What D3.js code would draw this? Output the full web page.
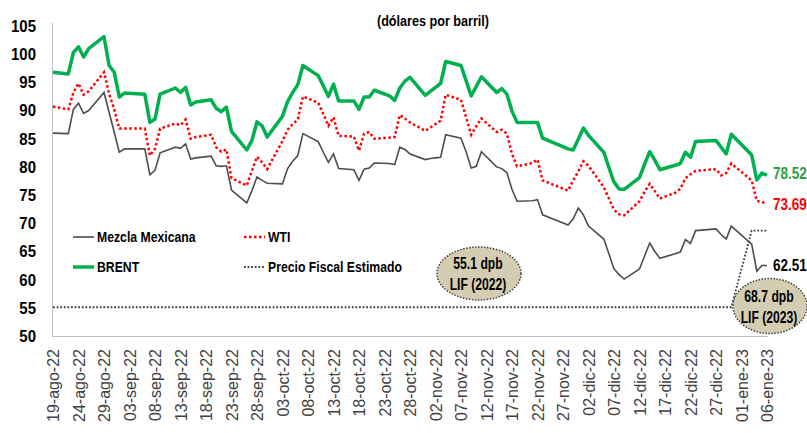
<!DOCTYPE html>
<html>
<head>
<meta charset="utf-8">
<script src="https://cdn.jsdelivr.net/npm/d3@7"></script>
<style>
  body { margin: 0; background: #fff; }
  text { font-family: "Liberation Sans", Arial, sans-serif; }
</style>
</head>
<body>
<div id="wrapper"></div>
<script>
// trading days shown in the chart
const dates = [
  "2022-08-19","2022-08-22","2022-08-23","2022-08-24","2022-08-25","2022-08-26","2022-08-29","2022-08-30","2022-08-31",
  "2022-09-01","2022-09-02","2022-09-06","2022-09-07","2022-09-08","2022-09-09","2022-09-12","2022-09-13","2022-09-14",
  "2022-09-15","2022-09-16","2022-09-19","2022-09-20","2022-09-21","2022-09-22","2022-09-23","2022-09-26","2022-09-27",
  "2022-09-28","2022-09-29","2022-09-30","2022-10-03","2022-10-04","2022-10-05","2022-10-06","2022-10-07","2022-10-10",
  "2022-10-11","2022-10-12","2022-10-13","2022-10-14","2022-10-17","2022-10-18","2022-10-19","2022-10-20","2022-10-21",
  "2022-10-24","2022-10-25","2022-10-26","2022-10-27","2022-10-28","2022-10-31","2022-11-01","2022-11-02","2022-11-03",
  "2022-11-04","2022-11-07","2022-11-08","2022-11-09","2022-11-10","2022-11-11","2022-11-14","2022-11-15","2022-11-16",
  "2022-11-17","2022-11-18","2022-11-21","2022-11-22","2022-11-23","2022-11-28","2022-11-29","2022-11-30","2022-12-01",
  "2022-12-02","2022-12-05","2022-12-06","2022-12-07","2022-12-08","2022-12-09","2022-12-12","2022-12-13","2022-12-14",
  "2022-12-15","2022-12-16","2022-12-19","2022-12-20","2022-12-21","2022-12-22","2022-12-23","2022-12-27","2022-12-28",
  "2022-12-29","2022-12-30","2023-01-03","2023-01-04","2023-01-05","2023-01-06"
];

const brent = [
  96.8, 96.5, 100.3, 101.3, 99.5, 101.0, 103.1, 98.0, 96.8,
  92.4, 93.1, 92.9, 87.9, 88.5, 92.9, 94.0, 93.2, 94.1,
  91.0, 91.5, 91.9, 90.4, 89.8, 90.6, 86.3, 83.0, 84.7,
  88.0, 87.3, 85.3, 89.0, 91.6, 93.2, 94.6, 98.0, 96.2,
  94.4, 92.5, 94.7, 91.7, 91.7, 90.2, 92.4, 92.4, 93.6,
  92.6, 91.8, 94.0, 95.2, 95.9, 92.7, 93.4, 94.1, 94.8,
  98.7, 98.0, 95.3, 92.6, 94.3, 96.0, 93.2, 93.9, 92.9,
  89.9, 87.9, 87.9, 87.9, 85.1, 83.2, 83.0, 84.9, 86.9,
  85.6, 82.6, 79.9, 77.3, 76.1, 76.0, 78.1, 80.5, 82.7,
  81.2, 79.5, 80.3, 80.6, 82.6, 81.7, 84.5, 84.7, 83.5,
  82.3, 85.8, 82.1, 77.7, 78.9, 78.52
];

const wti = [
  90.7, 90.2, 93.2, 94.8, 92.8, 93.4, 96.8, 93.0, 90.2,
  86.8, 86.8, 86.8, 82.0, 83.2, 86.8, 87.7, 87.4, 88.4,
  85.0, 85.3, 85.7, 83.5, 82.7, 83.1, 78.0, 76.7, 79.3,
  81.8, 80.8, 79.6, 84.6, 86.6, 87.6, 88.4, 92.5, 91.4,
  89.4, 87.3, 88.8, 85.5, 85.4, 82.9, 85.9, 86.2, 85.0,
  85.2, 85.3, 89.2, 88.6, 87.9, 86.4, 87.0, 87.6, 88.2,
  92.8, 91.9, 88.8, 85.7, 87.2, 88.6, 86.2, 86.6, 85.9,
  82.3, 80.1, 80.7, 81.3, 77.6, 75.8, 77.6, 79.2, 81.0,
  80.2, 76.4, 74.4, 72.4, 71.6, 71.4, 73.9, 75.6, 77.0,
  75.7, 74.4, 75.4, 76.1, 78.0, 78.7, 79.3, 79.6, 78.5,
  78.9, 80.6, 77.6, 74.0, 73.7, 73.69
];

const mezcla = [
  86.0, 85.9, 90.2, 91.3, 89.5, 90.0, 93.2, 89.7, 86.2,
  82.6, 83.2, 83.2, 78.6, 79.4, 82.5, 83.5, 83.3, 84.1,
  81.4, 81.6, 81.9, 80.2, 80.1, 80.2, 75.9, 73.6, 75.8,
  78.2, 77.6, 77.1, 77.0, 79.7, 81.0, 82.0, 85.9, 84.5,
  82.6, 80.8, 82.3, 79.7, 79.5, 77.6, 79.6, 79.8, 80.7,
  80.6, 80.4, 83.5, 83.1, 82.3, 81.3, 81.5, 81.6, 81.7,
  85.7, 85.1, 82.7, 79.8, 80.1, 82.7, 80.0, 79.7, 79.0,
  76.0, 73.9, 74.0, 74.2, 71.5, 69.7, 70.8, 72.7, 71.5,
  69.5, 67.2, 64.6, 61.9, 60.9, 60.1, 61.9, 64.2, 66.5,
  65.0, 63.8, 64.6, 64.9, 67.1, 66.4, 68.7, 69.0, 68.0,
  67.2, 69.5, 66.3, 61.5, 62.5, 62.51
];

// precio fiscal estimado (LIF 2022 -> LIF 2023)
const pfeDates = ["2022-08-19", "2022-12-30", "2023-01-03", "2023-01-06"];
const pfeValues = [55.1, 55.1, 68.7, 68.7];

const tickLabels = [
  "19-ago-22","24-ago-22","29-ago-22","03-sep-22","08-sep-22","13-sep-22","18-sep-22","23-sep-22","28-sep-22",
  "03-oct-22","08-oct-22","13-oct-22","18-oct-22","23-oct-22","28-oct-22","02-nov-22","07-nov-22","12-nov-22",
  "17-nov-22","22-nov-22","27-nov-22","02-dic-22","07-dic-22","12-dic-22","17-dic-22","22-dic-22","27-dic-22",
  "01-ene-23","06-ene-23"
];
const yTicks = [50, 55, 60, 65, 70, 75, 80, 85, 90, 95, 100, 105];

const endLabels = ["78.52", "73.69", "62.51"];
const bubbleLines = [["55.1 dpb", "LIF (2022)"], ["68.7 dpb", "LIF (2023)"]];

let dimensions = {
  width: 807,
  height: 433,
  margin: { top: 26, left: 53, bottom: 97, right: 40 }
}
dimensions.boundedWidth = dimensions.width - dimensions.margin.left - dimensions.margin.right;
dimensions.boundedHeight = dimensions.height - dimensions.margin.top - dimensions.margin.bottom;

const parseDate = d3.timeParse("%Y-%m-%d");
const meses = { ene: 0, feb: 1, mar: 2, abr: 3, may: 4, jun: 5, jul: 6, ago: 7, sep: 8, oct: 9, nov: 10, dic: 11 };
const parseLabel = s => {
  const p = s.split("-");
  return new Date(2000 + +p[2], meses[p[1]], +p[0]);
}

let wrapper = d3.select("#wrapper").append("svg")
  .attr("width", dimensions.width)
  .attr("height", dimensions.height);
let container = wrapper.append("g");

// narrow (Calibri-like) text: squeeze horizontally
function narrowText(parent, x, y, str, size, sx, opts = {}) {
  return parent.append("text")
    .attr("transform", `translate(${x}, ${y}) scale(${sx}, 1)`)
    .attr("dy", "0.35em")
    .attr("text-anchor", opts.anchor || "start")
    .attr("fill", opts.fill || "#000")
    .style("font-size", size + "px")
    .style("font-weight", "bold")
    .text(str);
}

const xScale = d3.scaleTime()
  .domain([parseDate(dates[0]), parseDate(dates[dates.length - 1])])
  .range([dimensions.margin.left, dimensions.margin.left + dimensions.boundedWidth]);
const yScale = d3.scaleLinear()
  .domain([50, 105])
  .range([dimensions.margin.top + dimensions.boundedHeight, dimensions.margin.top]);

// axes
const tickDates = tickLabels.map(parseLabel);
const xAxisGen = d3.axisBottom(xScale).tickValues(tickDates).tickFormat((d, i) => tickLabels[i]).tickSize(0);
const axisX = container.append("g")
  .attr("transform", `translate(0, ${yScale(50)})`)
  .call(xAxisGen);
axisX.select(".domain").attr("stroke", "#bfbfbf").attr("d", `M${dimensions.margin.left - 1},0.5H${dimensions.margin.left + dimensions.boundedWidth + 1}`);
axisX.selectAll("text")
  .attr("transform", "rotate(-90)")
  .attr("x", -13)
  .attr("y", 0)
  .attr("dy", "0.35em")
  .style("text-anchor", "end")
  .style("font-size", "16px")
  .attr("fill", "#404040");

const yAxisGen = d3.axisLeft(yScale).tickValues(yTicks).tickSize(0);
const axisY = container.append("g")
  .attr("transform", `translate(${dimensions.margin.left - 1}, 0)`)
  .call(yAxisGen);
axisY.select(".domain").attr("stroke", "#bfbfbf").attr("d", `M0.5,${yScale(50)}V${yScale(105) - 3}`);
axisY.selectAll("text")
  .attr("transform", "scale(0.88, 1)")
  .attr("x", -16 / 0.88)
  .style("font-size", "17px")
  .style("font-weight", "bold")
  .attr("fill", "#000");

// series
const rows = dates.map((d, i) => ({ date: parseDate(d), mezcla: mezcla[i], wti: wti[i], brent: brent[i] }));
const lineOf = key => d3.line().x(d => xScale(d.date)).y(d => yScale(d[key]));

container.append("path").datum(rows)
  .attr("d", lineOf("mezcla"))
  .attr("fill", "none").attr("stroke", "#4d4d4d").attr("stroke-width", 1.6);
container.append("path").datum(rows)
  .attr("d", lineOf("wti"))
  .attr("fill", "none").attr("stroke", "#ff0000").attr("stroke-width", 2.5)
  .attr("stroke-dasharray", "2.5 2.5");
container.append("path").datum(rows)
  .attr("d", lineOf("brent"))
  .attr("fill", "none").attr("stroke", "#00b050").attr("stroke-width", 3.5)
  .attr("stroke-linejoin", "round");

const pfe = pfeDates.map((d, i) => ({ date: parseDate(d), v: pfeValues[i] }));
container.append("path").datum(pfe)
  .attr("d", d3.line().x(d => xScale(d.date)).y(d => yScale(d.v)))
  .attr("fill", "none").attr("stroke", "#404040").attr("stroke-width", 1.8)
  .attr("stroke-dasharray", "1.8 1.8");

// title
narrowText(container, 433, 21, "(dólares por barril)", 14.5, 0.87, { anchor: "middle" });

// legend
const legend = [
  { name: "Mezcla Mexicana", x: 73, y: 237, stroke: "#4d4d4d", w: 1.6, dash: null },
  { name: "WTI", x: 244, y: 237, stroke: "#ff0000", w: 2.5, dash: "2.5 2.5" },
  { name: "BRENT", x: 73, y: 267, stroke: "#00b050", w: 3.5, dash: null },
  { name: "Precio Fiscal Estimado", x: 244, y: 267, stroke: "#404040", w: 1.8, dash: "1.8 1.8" }
];
legend.forEach(d => {
  container.append("line")
    .attr("x1", d.x).attr("x2", d.x + 21)
    .attr("y1", d.y).attr("y2", d.y)
    .attr("stroke", d.stroke).attr("stroke-width", d.w)
    .attr("stroke-dasharray", d.dash);
  narrowText(container, d.x + 24, d.y, d.name, 15.5, 0.79);
});

// end labels
const last = rows[rows.length - 1];
const endInfo = [
  { v: last.brent, color: "#2e9e3a", dy: -2 },
  { v: last.wti, color: "#ff0000", dy: 2 },
  { v: last.mezcla, color: "#000", dy: 0 }
];
endInfo.forEach((d, i) => {
  narrowText(container, xScale(last.date) + 6, yScale(d.v) + d.dy, endLabels[i], 16.5, 0.82, { fill: d.color });
});

// LIF bubbles
const bub = [
  { cx: 479, cy: 273.5, rx: 42, ry: 26.5 },
  { cx: 770, cy: 306, rx: 37, ry: 27.5 }
];
bub.forEach((b, i) => {
  container.append("ellipse")
    .attr("cx", b.cx).attr("cy", b.cy)
    .attr("rx", b.rx).attr("ry", b.ry)
    .attr("fill", "#d4cdb2").attr("stroke", "#404040")
    .attr("stroke-width", 1.5).attr("stroke-dasharray", "1.5 1.5");
  bubbleLines[i].forEach((t, j) => {
    narrowText(container, b.cx - 1, b.cy - 10 + j * 21, t, 16, 0.76, { anchor: "middle" });
  });
});
</script>
</body>
</html>
